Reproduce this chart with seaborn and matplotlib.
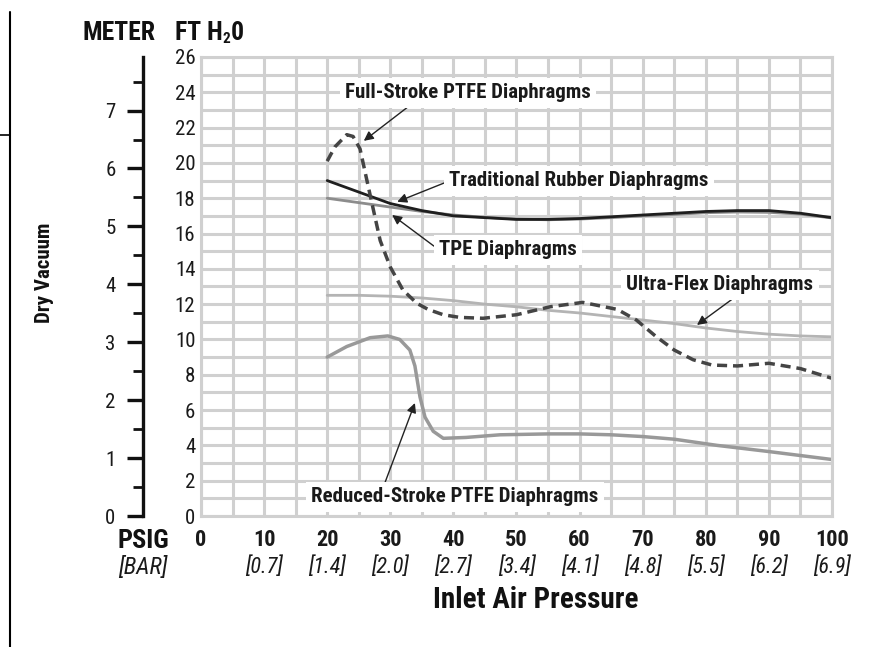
import matplotlib
matplotlib.use('Agg')
import matplotlib.pyplot as plt
from matplotlib.ticker import MultipleLocator
from matplotlib.lines import Line2D
import matplotlib.transforms as mtransforms
import numpy as np
import seaborn as sns

# data (psig vs ft H2O)
rubber_psi = [20, 25, 30, 35, 40, 45, 50, 55, 60, 65, 70, 75, 80, 85, 90, 95, 100]
rubber_ft = [19.0, 18.35, 17.7, 17.3, 17.0, 16.9, 16.8, 16.8, 16.85, 16.95, 17.05, 17.15, 17.25, 17.3, 17.3, 17.15, 16.9]

tpe_psi = [20, 25, 30, 35, 40, 45, 50, 55, 60, 65, 70, 75, 80, 85, 90, 95, 100]
tpe_ft = [18.0, 17.75, 17.5, 17.25, 17.05, 16.92, 16.82, 16.78, 16.82, 16.9, 17.0, 17.08, 17.18, 17.22, 17.2, 17.1, 16.88]

full_psi = [20, 21.2, 23.1, 24.1, 25.2, 26.3, 27.1, 28.4, 30, 32, 34.2, 36, 38.4, 41, 44.7,
            50, 55.3, 60.5, 66, 69, 72, 75, 78, 81, 85, 90, 95, 100]
full_ft = [20.1, 20.9, 21.6, 21.5, 20.8, 19.0, 17.7, 15.6, 14.1, 12.8, 12.05, 11.7, 11.4, 11.25, 11.2,
           11.4, 11.85, 12.1, 11.7, 11.1, 10.2, 9.4, 8.85, 8.55, 8.5, 8.65, 8.35, 7.8]

ultra_psi = [20, 25, 30, 35, 40, 45, 50, 55, 60, 65, 70, 75, 80, 85, 90, 95, 100]
ultra_ft = [12.5, 12.5, 12.45, 12.35, 12.2, 12.0, 11.85, 11.65, 11.5, 11.3, 11.1, 10.9, 10.65, 10.45, 10.3, 10.2, 10.15]

reduced_psi = [20, 23.1, 26.8, 29.6, 31.5, 33.1, 33.9, 34.7, 35.5, 36.8, 38.4, 42, 47.4,
               55, 60, 65, 70, 75, 81.8, 90, 100]
reduced_ft = [9.0, 9.6, 10.1, 10.2, 10.0, 9.4, 8.5, 6.75, 5.6, 4.8, 4.4, 4.45, 4.6,
              4.65, 4.65, 4.6, 4.5, 4.35, 4.0, 3.65, 3.2]

psig_ticks = [0, 10, 20, 30, 40, 50, 60, 70, 80, 90, 100]
bar_labels = ['', '[0.7]', '[1.4]', '[2.0]', '[2.7]', '[3.4]', '[4.1]', '[4.8]', '[5.5]', '[6.2]', '[6.9]']
ft_ticks = list(range(0, 27, 2))
meter_ticks = list(range(0, 8))

sns.set_style('white')
plt.rcParams['font.family'] = ['Roboto Condensed', 'DejaVu Sans']

fig = plt.figure(figsize=(8.87, 6.47), dpi=100)
ax = fig.add_axes([201 / 887, 1 - 516 / 647, 631 / 887, 459 / 647])

gridc = '#d0d0d0'
ink = '#1a1a1a'
ax.set_xlim(0, 100)
ax.set_ylim(0, 26)
ax.xaxis.set_minor_locator(MultipleLocator(5))
ax.yaxis.set_minor_locator(MultipleLocator(1))
ax.set_xticks(psig_ticks)
ax.set_yticks(ft_ticks)
ax.grid(True, which='both', color=gridc, lw=2.2)
ax.set_axisbelow(True)
for s in ax.spines.values():
    s.set_color(gridc)
    s.set_linewidth(2.2)
ax.tick_params(which='both', length=0)
ax.tick_params(axis='y', labelsize=15, pad=4, labelcolor=ink)
ax.set_xticklabels([str(v) for v in psig_ticks], fontsize=16, fontweight='bold', color=ink)
ax.tick_params(axis='x', pad=9)

sns.lineplot(x=ultra_psi, y=ultra_ft, ax=ax, color='#b4b4b4', lw=2)
sns.lineplot(x=reduced_psi, y=reduced_ft, ax=ax, color='#999999', lw=2.5)
sns.lineplot(x=tpe_psi, y=tpe_ft, ax=ax, color='#8c8c8c', lw=2)
sns.lineplot(x=rubber_psi, y=rubber_ft, ax=ax, color='#1e1e1e', lw=2)
sns.lineplot(x=full_psi, y=full_ft, ax=ax, color='#444444', lw=2.5)
ax.lines[-1].set_linestyle((0, (2.9, 1.7)))
ax.set_xlabel('')
ax.set_ylabel('')

# bar labels under psig ticks
trans = mtransforms.blended_transform_factory(ax.transData, fig.transFigure)
for v, b in zip(psig_ticks, bar_labels):
    ax.text(v, 1 - 567 / 647, b, transform=trans, ha='center', va='center',
            fontsize=16, fontstyle='italic', color=ink)

# annotations
box = dict(boxstyle='square,pad=0.25', fc='white', ec='none')
arrow = dict(arrowstyle='-|>', color='#222222', lw=1, mutation_scale=14, shrinkA=0, shrinkB=0)
notes = [
    ('Full-Stroke PTFE Diaphragms', (25.8, 21.25), (42.3, 23.97), (0.28, 0.0)),
    ('Traditional Rubber Diaphragms', (31.1, 17.8), (59.9, 18.98), (0.0, 0.5)),
    ('TPE Diaphragms', (30.3, 17.05), (48.65, 15.07), (0.0, 0.5)),
    ('Ultra-Flex Diaphragms', (78.6, 10.82), (82.25, 13.09), (0.6, 0.0)),
    ('Reduced-Stroke PTFE Diaphragms', (33.9, 6.4), (40.25, 1.08), (0.25, 1.0)),
]
for txt, xy, xyt, rp in notes:
    a = dict(arrow)
    a['relpos'] = rp
    ax.annotate(txt, xy=xy, xytext=xyt, ha='center', va='center', fontsize=15,
                fontweight='bold', color=ink, bbox=box, arrowprops=a)

# meter axis
ax2 = ax.twinx()
ax2.set_ylim(0, 26 / 3.28084)
ax2.yaxis.tick_left()
for k in ['right', 'top', 'bottom']:
    ax2.spines[k].set_visible(False)
ax2.spines['left'].set_visible(True)
ax2.spines['left'].set_position(('outward', 42))
ax2.spines['left'].set_linewidth(2.4)
ax2.spines['left'].set_color('#111111')
ax2.set_yticks(meter_ticks)
ax2.yaxis.set_minor_locator(MultipleLocator(0.5))
ax2.tick_params(which='major', length=11.5, width=2.4, color='#111111', labelsize=15, pad=8, labelcolor=ink)
ax2.tick_params(which='minor', length=7, width=2.0, color='#111111')
ax2.grid(False)

# header and axis titles
fig.text(119 / 887, 1 - 33 / 647, 'METER', ha='center', va='center', fontsize=18.5, fontweight='bold', color='#111111')
t1 = fig.text(175 / 887, 1 - 33 / 647, 'FT H', ha='left', va='center', fontsize=18.5, fontweight='bold', color='#111111')
fig.canvas.draw()
bb = t1.get_window_extent()
t2 = fig.text(bb.x1 / 887, 1 - 39 / 647, '2', ha='left', va='center', fontsize=11, fontweight='bold', color='#111111')
fig.canvas.draw()
bb2 = t2.get_window_extent()
fig.text(bb2.x1 / 887, 1 - 33 / 647, '0', ha='left', va='center', fontsize=18.5, fontweight='bold', color='#111111')
fig.text(45 / 887, 1 - 273 / 647, 'Dry Vacuum', rotation=90, ha='center', va='center', fontsize=15, fontweight='bold', color='#111111')
fig.text(143 / 887, 1 - 541 / 647, 'PSIG', ha='center', va='center', fontsize=19, fontweight='bold', color='#111111')
fig.text(143 / 887, 1 - 567 / 647, '[BAR]', ha='center', va='center', fontsize=17, fontstyle='italic', color=ink)
fig.text(536 / 887, 1 - 600 / 647, 'Inlet Air Pressure', ha='center', va='center', fontsize=21, fontweight='bold', color='#111111')

# page edge line on the left
fig.add_artist(Line2D([10 / 887, 10 / 887], [0, 1 - 12 / 647], color='black', lw=1.5))
fig.add_artist(Line2D([0, 10 / 887], [1 - 135 / 647, 1 - 135 / 647], color='black', lw=1.2))

plt.savefig('out.png', dpi=100)
